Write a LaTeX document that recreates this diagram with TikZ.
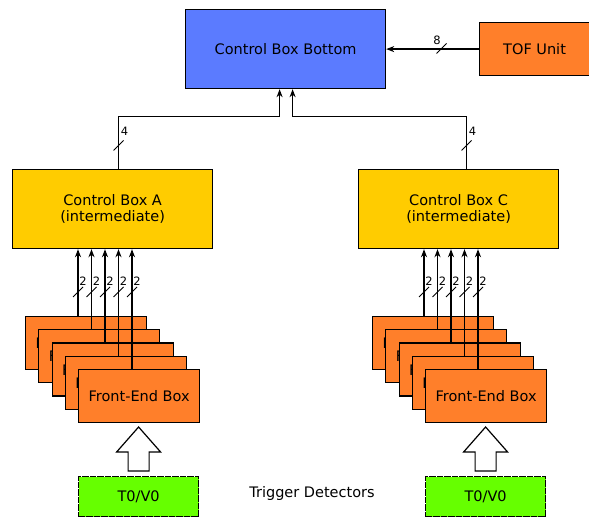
\documentclass[tikz,border=0pt]{standalone}
\usepackage{fontspec}
\setmainfont{DejaVu Sans}
\usetikzlibrary{arrows.meta,calc}

\definecolor{boxblue}{HTML}{5B7BFF}
\definecolor{boxorange}{HTML}{FF7F2A}
\definecolor{boxyellow}{HTML}{FFCC00}
\definecolor{boxgreen}{HTML}{66FF00}

\begin{document}
\begin{tikzpicture}[x=1pt,y=-1pt,
  box/.style={draw=black, line width=1.2pt, inner sep=0pt, anchor=north west,
    align=center, font=\fontsize{14.5}{16.5}\selectfont},
  ctrlbox/.style={box, fill=boxyellow, minimum width=200pt, minimum height=79pt},
  febox/.style={box, fill=boxorange, minimum width=121pt, minimum height=53pt},
  detbox/.style={box, fill=boxgreen, minimum width=120pt, minimum height=40pt,
    dash pattern=on 6.5pt off 1pt},
  sig/.style={draw=black, line width=1.2pt, -{Stealth[length=8pt,width=6pt,inset=2.5pt]}},
  hollow/.style={draw=black, line width=1.2pt, fill=white, line join=miter},
  pics/busmark/.style n args={2}{code={
    \draw[line width=0.9pt] (-5,5) -- (5,-5);
    \node[inner sep=0pt, font=\fontsize{11.5}{12}\selectfont] at (#2) {#1};
  }}]
\useasboundingbox (0,0) rectangle (589,518);

% top level
\node[box, fill=boxblue, minimum width=200pt, minimum height=79pt] (bottom) at (185,9) {Control Box Bottom};
\node[box, fill=boxorange, minimum width=110pt, minimum height=53pt] (tof) at (479,22) {TOF Unit};

% intermediate control boxes
\node[ctrlbox] (ctrlA) at (12,169) {Control Box A\\(intermediate)};
\node[ctrlbox] (ctrlC) at (358,169) {Control Box C\\(intermediate)};

% TOF link
\draw[sig] (tof.west) -- (tof.west -| bottom.east);
\pic at (441.5,48.5) {busmark={8}{-4.5,-8.5}};

% intermediate -> bottom
\coordinate (ca) at ($(ctrlA.north)+(6,0)$);
\coordinate (cc) at ($(ctrlC.north)+(8,0)$);
\coordinate (ba) at ($(bottom.south)+(-6,0)$);
\coordinate (bc) at ($(bottom.south)+(7,0)$);
\draw[sig] (ca) |- ($(ba)+(0,27)$) -- (ba);
\draw[sig] (cc) |- ($(bc)+(0,27)$) -- (bc);
\pic at (ca |- 0,145.5) {busmark={4}{6,-14}};
\pic at (cc |- 0,145.5) {busmark={4}{6,-14}};

% front-end stacks
\foreach \i in {1,...,5} {
  \node[febox] (fl\i) at ({25+13.25*(\i-1)},{316+13.25*(\i-1)}) {Front-End Box};
  \node[febox] (fr\i) at ({372+13.25*(\i-1)},{316+13.25*(\i-1)}) {Front-End Box};
}
\foreach \i in {1,...,5} {
  \coordinate (sl\i) at ($(fl\i.north west)+({53+0.25*(\i-1)},0)$);
  \coordinate (sr\i) at ($(fr\i.north west)+({52+0.25*(\i-1)},0)$);
  \draw[sig] (sl\i) -- (sl\i |- ctrlA.south);
  \draw[sig] (sr\i) -- (sr\i |- ctrlC.south);
  \pic at (sl\i |- 0,292) {busmark={2}{5,-11}};
  \pic at (sr\i |- 0,292) {busmark={2}{5,-11}};
}

% trigger detectors
\node[detbox] (tl) at (78,476) {T0/V0};
\node[detbox] (tr) at (425,476) {T0/V0};
\node[font=\fontsize{14.5}{16.5}\selectfont] (trig) at (312,493) {Trigger Detectors};

% hollow arrows from detectors into the front-end boxes
\foreach \d in {tl,tr} {
  \coordinate (b) at ($(\d.north)+(0,-5)$);
  \draw[hollow] ($(b)+(-10.5,0)$) -- ($(b)+(-10.5,-19)$) -- ($(b)+(-22,-19)$)
    -- ($(b)+(0,-44)$) -- ($(b)+(22,-19)$) -- ($(b)+(10.5,-19)$)
    -- ($(b)+(10.5,0)$) -- cycle;
}
\end{tikzpicture}
\end{document}
